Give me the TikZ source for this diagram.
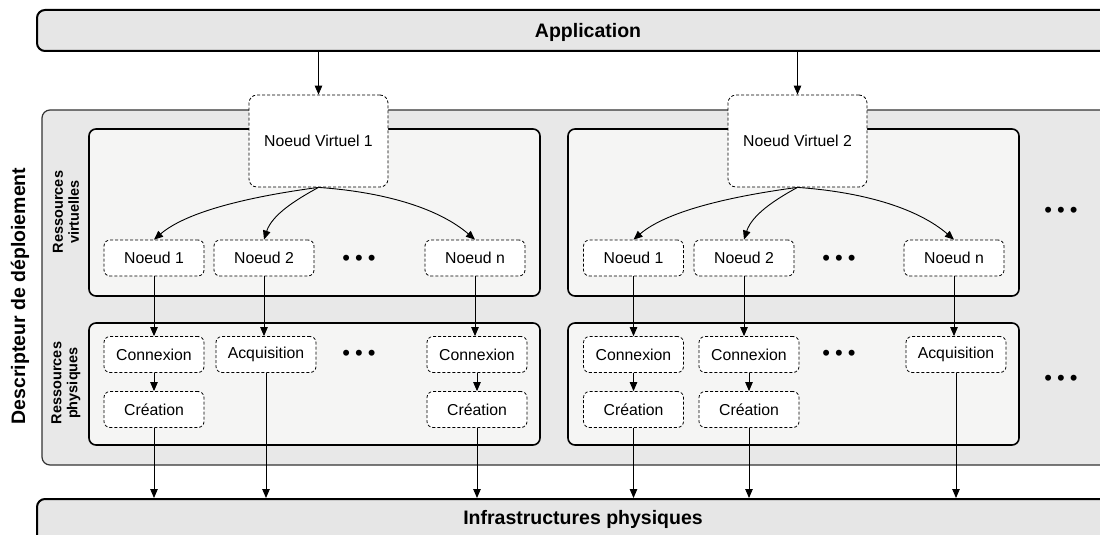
\documentclass[tikz,border=0pt]{standalone}
\usepackage{fontspec}
\setmainfont{Liberation Sans}
\usetikzlibrary{arrows.meta}
\definecolor{barfill}{HTML}{E6E6E6}
\definecolor{outerfill}{HTML}{E8E8E8}
\definecolor{innerfill}{HTML}{F5F5F4}
\definecolor{edgegray}{HTML}{333333}
\begin{document}
\begin{tikzpicture}[x=1pt,y=-1pt,
  >={Triangle[length=9pt,width=7.5pt]},
  conn/.style={->, line width=0.9pt, black},
  bar/.style={draw=black, line width=2pt, fill=barfill, rounded corners=8pt, inner sep=0pt},
  bartext/.style={font=\fontsize{19.5}{22}\selectfont\bfseries, inner sep=0pt},
  outerbox/.style={draw=edgegray, line width=1.2pt, fill=outerfill, rounded corners=8pt, inner sep=0pt,
    minimum width=1108pt, minimum height=355pt},
  innerbox/.style={draw=black, line width=1.6pt, fill=innerfill, rounded corners=7pt, inner sep=0pt,
    minimum width=451pt},
  vnode/.style={draw=black, line width=0.8pt, dash pattern=on 3pt off 2pt, fill=white,
    rounded corners=8pt, inner sep=0pt, minimum width=139pt, minimum height=92pt,
    font=\fontsize{15.8}{18}\selectfont},
  snode/.style={draw=black, line width=0.8pt, dash pattern=on 3pt off 2pt, fill=white,
    rounded corners=6pt, inner sep=0pt, minimum width=100pt, minimum height=36pt,
    font=\fontsize{15.8}{18}\selectfont},
  dots/.style={font=\fontsize{22}{24}\selectfont, inner sep=0pt},
  sidelabel/.style={rotate=90, font=\fontsize{14.5}{16}\selectfont\bfseries, align=center, inner sep=0pt},
]
\useasboundingbox (0,0) rectangle (1100,535);

% Bars
\node[bar, minimum width=1104pt, minimum height=41pt] (app) at (589,30.5) {};
\node[bartext] (apptxt) at (588,32) {Application};
\node[bar, minimum width=1104pt, minimum height=61pt] (infra) at (589,529.5) {};
\node[bartext] (infratxt) at (583,519.5) {Infrastructures physiques};

% Outer box
\node[outerbox] (desc) at (596,287.5) {};
\node[rotate=90, font=\fontsize{19.5}{22}\selectfont\bfseries] (desclab) at (20,296) {Descripteur de déploiement};

% Inner boxes
\node[innerbox, minimum height=167pt] (vbox1) at (314.5,212.5) {};
\node[innerbox, minimum height=167pt] (vbox2) at (793.5,212.5) {};
\node[innerbox, minimum height=122pt] (pbox1) at (314.5,384) {};
\node[innerbox, minimum height=122pt] (pbox2) at (793.5,384) {};

\node[sidelabel] (rv) at (66,212) {Ressources\\virtuelles};
\node[sidelabel] (rp) at (66,383) {Ressources\\physiques};

% Virtual nodes
\node[vnode] (nv1) at (318.5,141) {Noeud Virtuel 1};
\node[vnode] (nv2) at (797.5,141) {Noeud Virtuel 2};

% Virtual resources row
\node[snode] (a1) at (154,258) {Noeud 1};
\node[snode] (a2) at (264,258) {Noeud 2};
\node[dots] (ad) at (359,260) {•\hspace{5pt}•\hspace{5pt}•};
\node[snode] (an) at (475,258) {Noeud n};

\node[snode] (b1) at (633.5,258) {Noeud 1};
\node[snode] (b2) at (744,258) {Noeud 2};
\node[dots] (bd) at (839,260) {•\hspace{5pt}•\hspace{5pt}•};
\node[snode] (bn) at (954,258) {Noeud n};

\node[dots] (rd1) at (1061,212) {•\hspace{5pt}•\hspace{5pt}•};

% Physical resources
\node[snode] (c1) at (154,354.5) {Connexion};
\node[snode] (k1) at (154,409.5) {Création};
\node[snode] (c2) at (266,354.5) {Acquisition};
\node[dots] (cd) at (359,355) {•\hspace{5pt}•\hspace{5pt}•};
\node[snode] (cn) at (477,354.5) {Connexion};
\node[snode] (kn) at (477,409.5) {Création};

\node[snode] (d1) at (633.5,354.5) {Connexion};
\node[snode] (l1) at (633.5,409.5) {Création};
\node[snode] (d2) at (749,354.5) {Connexion};
\node[snode] (l2) at (749,409.5) {Création};
\node[dots] (dd) at (839,355) {•\hspace{5pt}•\hspace{5pt}•};
\node[snode] (dn) at (956,354.5) {Acquisition};

\node[dots] (rd2) at (1061,380) {•\hspace{5pt}•\hspace{5pt}•};

% Application -> virtual nodes
\draw[conn] (nv1.north |- app.south) -- (nv1.north);
\draw[conn] (nv2.north |- app.south) -- (nv2.north);

% Virtual node -> nodes (curves)
\draw[conn] (nv1.south) .. controls +(-60,8) and +(35,-30) .. (a1.north);
\draw[conn] (nv1.south) .. controls +(-22,12) and +(8,-25) .. (a2.north);
\draw[conn] (nv1.south) .. controls +(70,5) and +(-35,-30) .. (an.north);
\draw[conn] (nv2.south) .. controls +(-60,8) and +(35,-30) .. (b1.north);
\draw[conn] (nv2.south) .. controls +(-22,12) and +(8,-25) .. (b2.north);
\draw[conn] (nv2.south) .. controls +(70,5) and +(-35,-30) .. (bn.north);

% Nodes -> physical
\draw[conn] (a1.south) -- (a1.south |- c1.north);
\draw[conn] (a2.south) -- (a2.south |- c2.north);
\draw[conn] (an.south) -- (an.south |- cn.north);
\draw[conn] (b1.south) -- (b1.south |- d1.north);
\draw[conn] (b2.south) -- (b2.south |- d2.north);
\draw[conn] (bn.south) -- (bn.south |- dn.north);

% Connexion -> Création
\draw[conn] (c1.south) -- (k1.north);
\draw[conn] (cn.south) -- (kn.north);
\draw[conn] (d1.south) -- (l1.north);
\draw[conn] (d2.south) -- (l2.north);

% Physical -> infrastructure
\draw[conn] (k1.south) -- (k1.south |- infra.north);
\draw[conn] (c2.south) -- (c2.south |- infra.north);
\draw[conn] (kn.south) -- (kn.south |- infra.north);
\draw[conn] (l1.south) -- (l1.south |- infra.north);
\draw[conn] (l2.south) -- (l2.south |- infra.north);
\draw[conn] (dn.south) -- (dn.south |- infra.north);
\end{tikzpicture}
\end{document}
